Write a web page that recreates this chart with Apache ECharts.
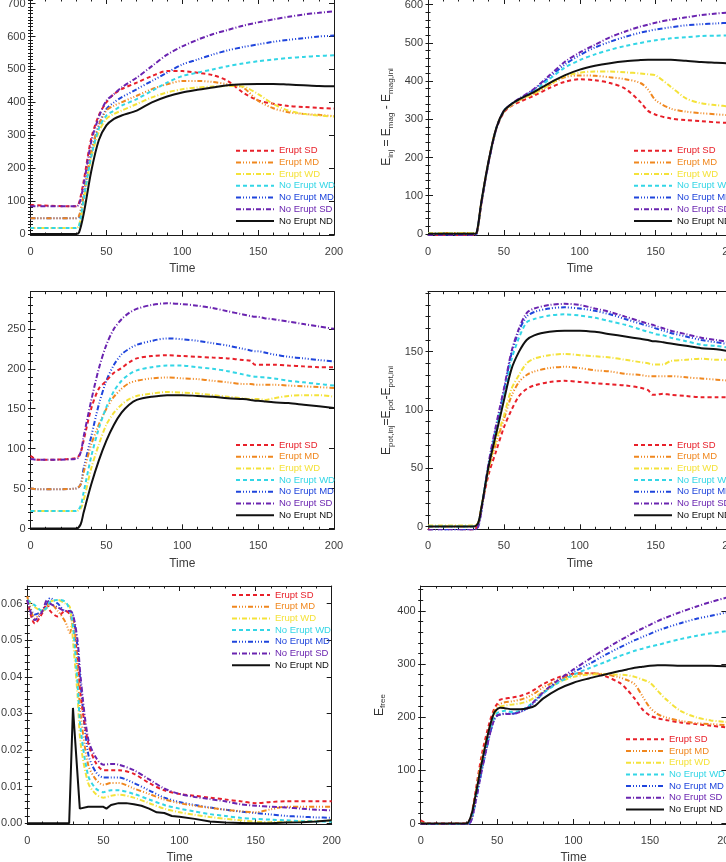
<!DOCTYPE html>
<html lang="en">
<head>
<meta charset="UTF-8">
<script src="https://cdn.jsdelivr.net/npm/echarts@6.0.0/dist/echarts.min.js"></script>
<style>
    html, body {margin: 0; padding: 0; background: #ffffff;}
    #chart {width: 726px; height: 862px;}
</style>
</head>
<body>
<div id="chart"></div>
<script>
    const names = ['Erupt SD', 'Erupt MD', 'Erupt WD', 'No Erupt WD', 'No Erupt MD', 'No Erupt SD', 'No Erupt ND'];

    // tick labels
    const xTicks = [0, 50, 100, 150, 200];
    const yTicks1 = [0, 100, 200, 300, 400, 500, 600, 700];
    const yTicks2 = [0, 100, 200, 300, 400, 500, 600];
    const yTicks3 = [0, 50, 100, 150, 200, 250];
    const yTicks4 = [0, 50, 100, 150];
    const yTicks5 = [0, 0.01, 0.02, 0.03, 0.04, 0.05, 0.06];
    const yTicks6 = [0, 100, 200, 300, 400];

    // panel 1 (top left)
    const t1 = [0, 30, 32, 35, 40, 45, 50, 55, 60, 70, 80, 90, 100, 110, 120, 130, 140, 150, 160, 170, 180, 190, 200];
    const p1ESD = [88, 84, 95, 160, 290, 360, 400, 425, 440, 460, 480, 495, 495, 490, 483, 465, 430, 406, 396, 389, 386, 383, 381];
    const p1EMD = [48, 48, 55, 120, 250, 330, 375, 390, 400, 420, 440, 455, 465, 465, 462, 455, 445, 405, 382, 370, 365, 362, 358];
    const p1EWD = [18, 18, 25, 100, 230, 310, 350, 365, 375, 395, 415, 430, 440, 445, 448, 450, 448, 425, 395, 375, 365, 360, 357];
    const p1NWD = [18, 18, 25, 105, 235, 320, 360, 375, 390, 410, 435, 460, 480, 490, 500, 510, 518, 525, 530, 535, 538, 541, 543];
    const p1NMD = [48, 48, 52, 115, 245, 330, 380, 400, 415, 440, 465, 490, 515, 530, 545, 558, 568, 576, 584, 590, 595, 600, 603];
    const p1NSD = [84, 84, 90, 150, 280, 355, 405, 425, 445, 475, 510, 545, 570, 590, 607, 620, 633, 643, 652, 660, 667, 672, 677];
    const p1NND = [0, 0, 5, 60, 190, 285, 330, 350, 360, 375, 400, 418, 430, 438, 445, 452, 455, 456, 456, 454, 452, 450, 449];

    // panel 2 (top right)
    const t2 = [0, 30, 32, 35, 40, 45, 50, 55, 60, 70, 80, 90, 100, 110, 120, 130, 140, 145, 150, 160, 170, 180, 190, 200];
    const p2ESD = [-3, -3, 0, 75, 190, 275, 318, 335, 345, 362, 382, 398, 405, 402, 395, 380, 345, 322, 312, 302, 298, 295, 292, 290];
    const p2EMD = [2, 2, 3, 80, 192, 278, 322, 338, 350, 367, 390, 410, 415, 414, 410, 405, 395, 378, 350, 328, 320, 316, 313, 310];
    const p2EWD = [2, 2, 3, 78, 190, 276, 320, 337, 350, 368, 390, 413, 422, 425, 425, 423, 420, 418, 415, 385, 355, 342, 337, 333];
    const p2NWD = [0, 0, 2, 78, 190, 276, 322, 340, 352, 375, 405, 435, 455, 470, 482, 492, 500, 504, 507, 512, 515, 518, 519, 520];
    const p2NMD = [-2, -2, 0, 76, 188, 275, 322, 340, 353, 378, 410, 443, 468, 488, 503, 516, 527, 531, 535, 541, 546, 549, 551, 553];
    const p2NSD = [-3, -3, 0, 76, 188, 275, 322, 340, 354, 380, 415, 450, 475, 495, 515, 530, 543, 548, 553, 561, 567, 573, 577, 580];
    const p2NND = [0, 0, 2, 80, 192, 277, 322, 340, 352, 372, 395, 415, 430, 440, 447, 452, 455, 456, 456, 456, 453, 450, 448, 446];

    // panel 3 (middle left)
    const t3 = [0, 5, 30, 33, 35, 40, 45, 50, 55, 60, 65, 70, 80, 90, 100, 110, 120, 130, 140, 145, 148, 150, 155, 160, 170, 180, 190, 200];
    const p3ESD = [91, 86, 88, 95, 110, 150, 175, 185, 195, 201, 208, 213, 216, 217, 216, 215, 214, 213, 211, 210, 205, 205, 205, 205, 204, 203, 202, 202];
    const p3EMD = [50, 49, 50, 55, 70, 105, 130, 150, 165, 175, 182, 185, 188, 189, 188, 187, 185, 183, 181, 181, 180, 180, 180, 180, 179, 178, 177, 176];
    const p3EWD = [22, 22, 22, 25, 35, 75, 105, 130, 145, 155, 162, 166, 169, 171, 170, 169, 167, 165, 163, 162, 162, 162, 161, 163, 166, 167, 167, 165];
    const p3NWD = [22, 22, 22, 28, 45, 90, 125, 152, 172, 185, 193, 198, 202, 204, 204, 202, 200, 197, 193, 191, 190, 190, 189, 188, 185, 183, 181, 179];
    const p3NMD = [50, 49, 50, 55, 75, 115, 155, 185, 205, 218, 225, 230, 235, 238, 237, 235, 232, 229, 225, 223, 222, 222, 220, 218, 215, 213, 211, 209];
    const p3NSD = [87, 86, 87, 95, 115, 160, 200, 230, 250, 262, 270, 275, 280, 282, 281, 279, 276, 272, 268, 266, 265, 265, 263, 262, 259, 256, 253, 250];
    const p3NND = [0, 0, 0, 5, 20, 55, 85, 110, 130, 145, 155, 161, 165, 167, 167, 166, 165, 163, 162, 161, 160, 160, 159, 158, 157, 155, 153, 151];

    // panel 4 (middle right)
    const t4 = [0, 5, 30, 33, 35, 40, 45, 50, 55, 60, 65, 70, 80, 90, 100, 110, 120, 130, 140, 145, 148, 150, 155, 160, 170, 180, 190, 200];
    const p4ESD = [-2, -5, -3, 2, 15, 45, 65, 85, 100, 112, 118, 121, 124, 125, 124, 123, 122, 121, 119, 117, 113, 113, 114, 113, 112, 111, 111, 111];
    const p4EMD = [0, 0, 0, 3, 15, 50, 72, 92, 112, 124, 130, 133, 136, 137, 136, 134, 133, 131, 130, 129, 129, 129, 129, 129, 128, 127, 126, 125];
    const p4EWD = [1, 1, 1, 3, 15, 50, 75, 95, 118, 130, 140, 144, 147, 148, 147, 146, 145, 143, 141, 140, 139, 139, 139, 142, 143, 144, 143, 143];
    const p4NWD = [0, 0, 0, 2, 15, 54, 85, 112, 143, 162, 175, 178, 181, 182, 181, 179, 176, 173, 169, 167, 166, 165, 164, 162, 159, 156, 155, 153];
    const p4NMD = [-3, -3, -3, 0, 12, 52, 86, 116, 148, 168, 180, 184, 187, 188, 187, 185, 182, 178, 174, 172, 171, 170, 168, 166, 163, 160, 158, 156];
    const p4NSD = [-3, -3, -3, 0, 12, 55, 88, 118, 150, 170, 183, 187, 190, 191, 190, 187, 184, 180, 176, 174, 173, 172, 170, 168, 165, 162, 160, 158];
    const p4NND = [0, 0, 0, 3, 15, 52, 80, 108, 135, 150, 160, 164, 167, 168, 168, 167, 165, 163, 161, 160, 159, 159, 158, 157, 155, 153, 152, 150];

    // panel 5 (bottom left)
    const t5 = [0, 5, 10, 13, 15, 20, 25, 28, 30, 33, 35, 40, 45, 50, 55, 60, 70, 80, 90, 100, 110, 120, 130, 140, 150, 160, 170, 180, 190, 200];
    const p5ESD = [0.061, 0.0545, 0.0575, 0.060, 0.058, 0.0565, 0.058, 0.057, 0.054, 0.045, 0.035, 0.022, 0.0165, 0.0145, 0.0145, 0.0145, 0.0135, 0.011, 0.009, 0.008, 0.0075, 0.007, 0.0065, 0.006, 0.0055, 0.0058, 0.006, 0.006, 0.006, 0.006];
    const p5EMD = [0.062, 0.056, 0.058, 0.059, 0.060, 0.058, 0.055, 0.052, 0.056, 0.042, 0.030, 0.016, 0.012, 0.0105, 0.011, 0.011, 0.0095, 0.008, 0.0065, 0.0055, 0.0048, 0.0042, 0.0037, 0.0033, 0.003, 0.0038, 0.0045, 0.0045, 0.0045, 0.0045];
    const p5EWD = [0.061, 0.059, 0.058, 0.059, 0.0605, 0.061, 0.060, 0.059, 0.050, 0.035, 0.022, 0.011, 0.008, 0.007, 0.0075, 0.0078, 0.007, 0.0055, 0.004, 0.003, 0.0023, 0.0017, 0.0012, 0.0008, 0.0004, 0.0003, 0.0004, 0.0005, 0.0006, 0.0007];
    const p5NWD = [0.061, 0.0595, 0.058, 0.059, 0.0605, 0.061, 0.0605, 0.058, 0.054, 0.038, 0.026, 0.013, 0.0095, 0.0085, 0.009, 0.009, 0.008, 0.0065, 0.005, 0.004, 0.0032, 0.0025, 0.002, 0.0015, 0.0012, 0.001, 0.0008, 0.0006, 0.0005, 0.0004];
    const p5NMD = [0.061, 0.057, 0.058, 0.060, 0.0615, 0.060, 0.058, 0.058, 0.057, 0.048, 0.038, 0.019, 0.014, 0.0125, 0.0125, 0.0125, 0.011, 0.009, 0.007, 0.0058, 0.005, 0.0043, 0.0037, 0.0032, 0.0028, 0.0024, 0.002, 0.0018, 0.0016, 0.0015];
    const p5NSD = [0.061, 0.0555, 0.058, 0.061, 0.060, 0.059, 0.058, 0.058, 0.057, 0.050, 0.040, 0.023, 0.018, 0.016, 0.0162, 0.016, 0.0145, 0.012, 0.0095, 0.008, 0.0072, 0.0066, 0.006, 0.0052, 0.0048, 0.0045, 0.0043, 0.004, 0.0037, 0.0035];
    const t5nd = [0, 27.5, 30, 34.5, 40, 45, 50, 52, 55, 60, 65, 70, 75, 80, 85, 90, 95, 100, 110, 120, 130, 140, 150, 160, 170, 180, 190, 200];
    const p5NND = [0, 0, 0.0315, 0.004, 0.0045, 0.0045, 0.0045, 0.004, 0.005, 0.0055, 0.0055, 0.0052, 0.0048, 0.004, 0.003, 0.0028, 0.002, 0.0018, 0.0012, 0.0005, 0.0002, 0.0001, 0, 0, 0.0002, 0.0003, 0.0005, 0.0008];

    // panel 6 (bottom right)
    const t6 = [0, 5, 30, 33, 35, 40, 45, 48, 50, 52, 55, 60, 65, 70, 75, 80, 90, 100, 110, 120, 130, 135, 140, 145, 150, 155, 160, 170, 180, 190, 200];
    const p6ESD = [6, 0, 0, 15, 45, 130, 190, 215, 225, 233, 235, 237, 240, 245, 253, 262, 275, 282, 283, 278, 265, 252, 235, 215, 203, 198, 195, 190, 187, 184, 181];
    const p6EMD = [2, -1, 0, 12, 40, 120, 180, 210, 220, 225, 228, 230, 233, 238, 246, 256, 270, 280, 283, 281, 275, 270, 262, 240, 218, 206, 200, 193, 189, 187, 185];
    const p6EWD = [0, -2, -2, 10, 38, 118, 178, 205, 215, 220, 222, 224, 226, 230, 238, 248, 265, 276, 280, 281, 280, 279, 276, 271, 265, 250, 235, 212, 200, 194, 191];
    const p6NWD = [0, -2, -2, 8, 32, 105, 170, 198, 208, 210, 212, 210, 212, 220, 232, 245, 265, 280, 292, 303, 315, 320, 325, 329, 333, 336, 340, 347, 353, 358, 362];
    const p6NMD = [0, -3, -3, 5, 28, 100, 165, 195, 203, 205, 207, 207, 210, 217, 230, 245, 267, 285, 300, 316, 331, 338, 345, 351, 357, 363, 368, 377, 385, 391, 397];
    const p6NSD = [0, -3, -3, 5, 28, 100, 165, 195, 203, 205, 206, 206, 210, 218, 232, 247, 270, 290, 309, 327, 344, 352, 360, 367, 374, 381, 387, 398, 408, 417, 425];
    const p6NND = [0, 0, 0, 15, 40, 115, 180, 208, 215, 218, 217, 215, 215, 217, 222, 235, 253, 265, 273, 280, 287, 290, 293, 295, 297, 298, 298, 297, 297, 297, 296];

    const colors = ['#e8202a', '#f0871e', '#f4e23a', '#33d6e6', '#1f45dc', '#6a24b0', '#111111'];
    const dashes = [[4, 3], [5, 2, 1, 2, 1, 2, 1, 2], [5, 2, 1, 2], [4, 3], [5, 2, 1, 2, 1, 2, 1, 2], [5, 2, 1, 2], 'solid'];
    // drawing order: the blue curve sits under the orange one where they overlap
    const zOrder = [2, 2, 2, 2, 1.5, 2, 2];
    const font = '"Liberation Sans", Arial, Helvetica, sans-serif';
    const labelColor = '#3c3c3c';

    const panels = [
        {
            grid: {left: 30.5, top: -1, width: 303.5, height: 236},
            ymin: -3, ymax: 714, ticks: yTicks1, minor: 10,
            series: [[t1, p1ESD], [t1, p1EMD], [t1, p1EWD], [t1, p1NWD], [t1, p1NMD], [t1, p1NSD], [t1, p1NND]],
            legend: {left: 235, top: 145.7}
        },
        {
            grid: {left: 428, top: -1, width: 303.5, height: 236},
            ymin: -3, ymax: 615, ticks: yTicks2, minor: 20,
            yName: '{n|E}{s|inj}{n| = E}{s|mag}{n| - E}{s|mag,ini}',
            series: [[t2, p2ESD], [t2, p2EMD], [t2, p2EWD], [t2, p2NWD], [t2, p2NMD], [t2, p2NSD], [t2, p2NND]],
            legend: {left: 633, top: 145.7}
        },
        {
            grid: {left: 30.5, top: 291.7, width: 303.5, height: 237.6},
            ymin: -1, ymax: 296.5, ticks: yTicks3, minor: 10,
            series: [[t3, p3ESD], [t3, p3EMD], [t3, p3EWD], [t3, p3NWD], [t3, p3NMD], [t3, p3NSD], [t3, p3NND]],
            legend: {left: 235, top: 440}
        },
        {
            grid: {left: 428, top: 291.7, width: 303.5, height: 237.6},
            ymin: -2.3, ymax: 201.4, ticks: yTicks4, minor: 10,
            yName: '{n|E}{s|pot,inj}{n|=E}{s|pot}{n|-E}{s|pot,ini}',
            series: [[t4, p4ESD], [t4, p4EMD], [t4, p4EWD], [t4, p4NWD], [t4, p4NMD], [t4, p4NSD], [t4, p4NND]],
            legend: {left: 633, top: 440}
        },
        {
            grid: {left: 27.3, top: 586, width: 304.4, height: 238},
            ymin: -0.0002, ymax: 0.0648, ticks: yTicks5, minor: 0.002, digits: 2,
            series: [[t5, p5ESD], [t5, p5EMD], [t5, p5EWD], [t5, p5NWD], [t5, p5NMD], [t5, p5NSD], [t5nd, p5NND]],
            legend: {left: 231, top: 590}
        },
        {
            grid: {left: 420.7, top: 586, width: 305.7, height: 238},
            ymin: -1, ymax: 447, ticks: yTicks6, minor: 20,
            yName: '{n|E}{s|free}',
            series: [[t6, p6ESD], [t6, p6EMD], [t6, p6EWD], [t6, p6NWD], [t6, p6NMD], [t6, p6NSD], [t6, p6NND]],
            legend: {left: 625, top: 734.3}
        }
    ];

    function minorValues(p) {
        let out = [];
        let start = Math.ceil(p.ymin / p.minor);
        let end = Math.floor(p.ymax / p.minor);
        for (let k = start; k <= end; k++) {
            out.push(+(k * p.minor).toFixed(6));
        }
        return out;
    }

    const chart = echarts.init(document.getElementById('chart'));

    let grids = [], xAxes = [], yAxes = [], series = [], legends = [];
    const frame = {show: true, onZero: false, lineStyle: {color: '#1a1a1a', width: 1}};

    panels.forEach(function (p, i) {
        // keep the grid exactly where it is put, even past the right edge
        grids.push(Object.assign({containLabel: false, outerBoundsMode: 'none'}, p.grid));

        // bottom and top x axes
        xAxes.push({
            type: 'value', gridIndex: i, position: 'bottom', min: 0, max: 200, interval: 50,
            axisLine: frame,
            axisTick: {show: true, inside: true, length: 5, lineStyle: {color: '#1a1a1a'}},
            minorTick: {show: true, splitNumber: 5, length: 2.5, lineStyle: {color: '#1a1a1a'}},
            axisLabel: {show: true, margin: 11, fontSize: 11, color: labelColor, fontFamily: font,
                customValues: xTicks},
            splitLine: {show: false},
            name: 'Time', nameLocation: 'middle', nameGap: 28,
            nameTextStyle: {fontSize: 12, color: labelColor, fontFamily: font}
        });
        xAxes.push({
            type: 'value', gridIndex: i, position: 'top', min: 0, max: 200, interval: 50,
            axisLine: frame,
            axisTick: {show: true, inside: true, length: 5, lineStyle: {color: '#1a1a1a'}},
            minorTick: {show: true, splitNumber: 5, length: 2.5, lineStyle: {color: '#1a1a1a'}},
            axisLabel: {show: false},
            splitLine: {show: false}
        });

        // left/right y axes, major ticks
        let majorLeft = {
            type: 'value', gridIndex: i, position: 'left', min: p.ymin, max: p.ymax,
            axisLine: frame,
            axisTick: {show: true, inside: true, length: 5, customValues: p.ticks, lineStyle: {color: '#1a1a1a'}},
            axisLabel: {
                show: true, margin: 5, fontSize: 11, color: labelColor, fontFamily: font,
                customValues: p.ticks,
                formatter: function (v) {
                    return p.digits ? v.toFixed(p.digits) : String(v);
                }
            },
            splitLine: {show: false}
        };
        if (p.yName) {
            majorLeft.name = p.yName;
            majorLeft.nameLocation = 'middle';
            majorLeft.nameGap = 34;
            majorLeft.nameTextStyle = {
                rich: {
                    n: {fontSize: 12, color: '#333', fontFamily: font, lineHeight: 14},
                    s: {fontSize: 8, color: '#333', fontFamily: font, lineHeight: 14, padding: [7, 0, 0, 0]}
                }
            };
        }
        yAxes.push(majorLeft);
        yAxes.push({
            type: 'value', gridIndex: i, position: 'right', min: p.ymin, max: p.ymax,
            axisLine: frame,
            axisTick: {show: true, inside: true, length: 5, customValues: p.ticks, lineStyle: {color: '#1a1a1a'}},
            axisLabel: {show: false},
            splitLine: {show: false}
        });
        // minor ticks
        let minors = minorValues(p);
        ['left', 'right'].forEach(function (pos) {
            yAxes.push({
                type: 'value', gridIndex: i, position: pos, min: p.ymin, max: p.ymax,
                axisLine: {show: false},
                axisTick: {show: true, inside: true, length: 2.5, customValues: minors, lineStyle: {color: '#1a1a1a'}},
                axisLabel: {show: false},
                splitLine: {show: false}
            });
        });

        p.series.forEach(function (s, k) {
            let tt = s[0], vv = s[1];
            series.push({
                name: names[k],
                type: 'line',
                xAxisIndex: 2 * i,
                yAxisIndex: 4 * i,
                z: zOrder[k],
                data: tt.map(function (t, j) {
                    return [t, vv[j]];
                }),
                showSymbol: false,
                symbol: 'none',
                smooth: (i === 4 && k === 6) ? false : 0.3,
                animation: false,
                lineStyle: {color: colors[k], width: 2, type: dashes[k]},
                itemStyle: {color: colors[k]}
            });
        });

        legends.push({
            orient: 'vertical',
            left: p.legend.left,
            top: p.legend.top,
            itemWidth: 38,
            itemHeight: 10,
            itemGap: 1.7,
            selectedMode: false,
            padding: 0,
            // hide the circle that line series put in the middle of the icon
            itemStyle: {color: 'rgba(0,0,0,0)', borderWidth: 0, opacity: 0},
            textStyle: {fontSize: 9.5, fontFamily: font},
            data: names.map(function (n, k) {
                return {name: n, textStyle: {color: colors[k]}};
            })
        });
    });

    chart.setOption({
        animation: false,
        backgroundColor: '#ffffff',
        grid: grids,
        xAxis: xAxes,
        yAxis: yAxes,
        legend: legends,
        series: series
    });
</script>
</body>
</html>
